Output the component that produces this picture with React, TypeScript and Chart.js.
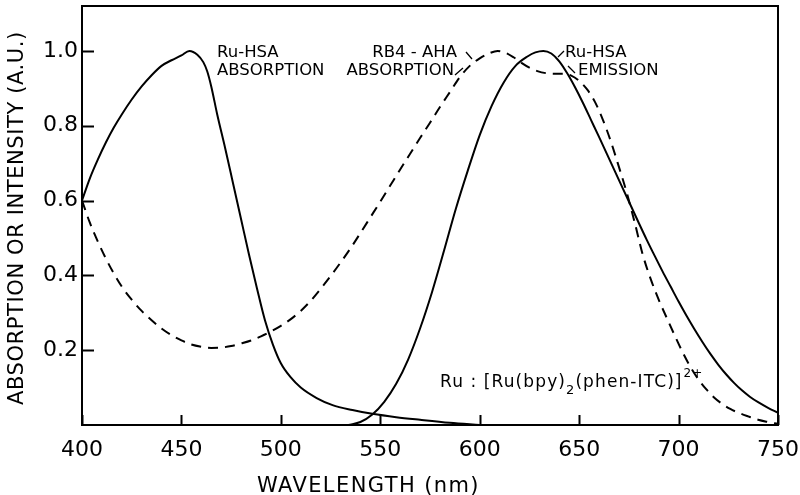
import React, { useEffect, useRef } from "react";
import { Chart, registerables } from "chart.js";

Chart.register(...registerables);

// Ru-HSA absorption (solid)
const absX = [400, 404, 408, 412, 416, 420, 425, 430, 435, 440, 445, 450, 454, 458, 461, 463, 465, 468, 472, 476, 480, 484, 488, 492, 496, 500, 505, 510, 518, 526, 536, 546, 558, 570, 585, 600];
const absY = [0.6, 0.66, 0.71, 0.755, 0.795, 0.83, 0.87, 0.905, 0.935, 0.96, 0.975, 0.988, 1.0, 0.99, 0.97, 0.945, 0.905, 0.83, 0.74, 0.645, 0.55, 0.455, 0.365, 0.28, 0.215, 0.165, 0.127, 0.1, 0.072, 0.053, 0.04, 0.03, 0.021, 0.014, 0.006, 0.0];

// Ru-HSA emission (solid)
const emX = [534, 540, 546, 552, 558, 564, 570, 576, 582, 588, 594, 600, 606, 612, 618, 624, 628, 632, 636, 640, 644, 648, 652, 656, 660, 664, 668, 672, 676, 680, 684, 688, 692, 696, 700, 704, 708, 712, 716, 720, 724, 728, 732, 736, 740, 745, 750];
const emY = [0, 0.008, 0.028, 0.062, 0.11, 0.175, 0.258, 0.355, 0.465, 0.578, 0.68, 0.775, 0.853, 0.915, 0.96, 0.985, 0.996, 1.0, 0.993, 0.972, 0.94, 0.902, 0.86, 0.815, 0.77, 0.724, 0.678, 0.632, 0.586, 0.54, 0.495, 0.452, 0.41, 0.37, 0.33, 0.292, 0.256, 0.222, 0.19, 0.161, 0.135, 0.112, 0.092, 0.075, 0.061, 0.046, 0.033];

// RB4-AHA absorption (dashed)
const rbX = [400, 404, 408, 412, 416, 420, 425, 430, 435, 440, 445, 450, 455, 460, 465, 470, 475, 480, 485, 490, 495, 500, 505, 510, 515, 520, 525, 530, 535, 540, 545, 550, 555, 560, 565, 570, 575, 580, 585, 590, 595, 600, 605, 609, 613, 617, 621, 625, 629, 634, 638, 642, 646, 650, 654, 658, 662, 666, 670, 674, 678, 682, 686, 690, 694, 698, 702, 706, 710, 714, 718, 722, 726, 730, 735, 740, 745, 750];
const rbY = [0.6, 0.54, 0.49, 0.445, 0.405, 0.37, 0.335, 0.305, 0.28, 0.258, 0.24, 0.226, 0.215, 0.209, 0.206, 0.207, 0.211, 0.218, 0.226, 0.237, 0.25, 0.265, 0.283, 0.305, 0.332, 0.364, 0.398, 0.434, 0.472, 0.513, 0.555, 0.597, 0.64, 0.683, 0.725, 0.767, 0.808, 0.85, 0.89, 0.93, 0.96, 0.98, 0.994, 1.0, 0.995, 0.983, 0.968, 0.955, 0.946, 0.94, 0.939, 0.939, 0.934, 0.92, 0.897, 0.863, 0.815, 0.757, 0.69, 0.62, 0.54, 0.455, 0.39, 0.335, 0.287, 0.24, 0.195, 0.155, 0.122, 0.095, 0.073, 0.056, 0.043, 0.033, 0.023, 0.014, 0.008, 0.003];

const xTicks = [400, 450, 500, 550, 600, 650, 700, 750];
const yTicks = [0.2, 0.4, 0.6, 0.8, 1.0];

const FONT = "'DejaVu Sans', sans-serif";

const toPts = (xs: number[], ys: number[]) => xs.map((x, i) => ({ x, y: ys[i] }));

const decorPlugin = {
  id: "decor",
  afterDraw(chart: any) {
    const { ctx, chartArea: a, scales } = chart;
    const xs = scales.x;
    const ys = scales.y;
    ctx.save();
    ctx.strokeStyle = "#000";
    ctx.fillStyle = "#000";
    // frame
    ctx.lineWidth = 2;
    ctx.strokeRect(a.left, a.top, a.right - a.left, a.bottom - a.top);
    // inward ticks
    ctx.beginPath();
    xTicks.forEach((t) => {
      const px = Math.round(xs.getPixelForValue(t)) + 0.5;
      ctx.moveTo(px, a.bottom);
      ctx.lineTo(px, a.bottom - 10);
    });
    yTicks.forEach((t) => {
      const py = Math.round(ys.getPixelForValue(t)) + 0.5;
      ctx.moveTo(a.left, py);
      ctx.lineTo(a.left + 12, py);
    });
    ctx.stroke();

    // axis titles
    ctx.textBaseline = "alphabetic";
    ctx.textAlign = "left";
    ctx.font = `21px ${FONT}`;
    (ctx as any).letterSpacing = "1.4px";
    ctx.fillText("WAVELENGTH (nm)", 257, 492);
    ctx.save();
    ctx.translate(23, 405);
    ctx.rotate(-Math.PI / 2);
    (ctx as any).letterSpacing = "0.6px";
    ctx.font = `21px ${FONT}`;
    ctx.fillText("ABSORPTION OR INTENSITY (A.U.)", 0, 0);
    ctx.restore();

    // curve labels
    (ctx as any).letterSpacing = "0px";
    ctx.font = `16.5px ${FONT}`;
    ctx.textAlign = "left";
    ctx.fillText("Ru-HSA", 217, 57);
    ctx.fillText("ABSORPTION", 217, 75);
    ctx.textAlign = "right";
    ctx.fillText("RB4 - AHA", 457, 57);
    ctx.fillText("ABSORPTION", 454, 75);
    ctx.textAlign = "left";
    ctx.fillText("Ru-HSA", 565, 57);
    ctx.fillText("EMISSION", 578, 75);

    // leader marks
    ctx.lineWidth = 1.3;
    ctx.beginPath();
    ctx.moveTo(466, 52); ctx.lineTo(472, 59);
    ctx.moveTo(455, 75); ctx.lineTo(463, 68);
    ctx.moveTo(558, 57); ctx.lineTo(564, 51);
    ctx.moveTo(568, 66); ctx.lineTo(575, 73);
    ctx.stroke();

    // formula
    (ctx as any).letterSpacing = "1.1px";
    let x = 440;
    const base = 387;
    const put = (s: string, dy: number, size: number) => {
      ctx.font = `${size}px ${FONT}`;
      ctx.fillText(s, x, base + dy);
      x += ctx.measureText(s).width;
    };
    put("Ru : [Ru(bpy)", 0, 17);
    put("2", 7, 13);
    put("(phen-ITC)]", 0, 17);
    x += 1;
    put("2+", -10, 12);

    ctx.restore();
  },
};

export default function App() {
  const ref = useRef<HTMLCanvasElement | null>(null);
  useEffect(() => {
    if (!ref.current) return;
    const common = {
      borderColor: "#000",
      borderWidth: 2,
      pointRadius: 0,
      cubicInterpolationMode: "monotone",
      fill: false,
    };
    const chart = new Chart(ref.current, {
      type: "line",
      data: {
        datasets: [
          { label: "Ru-HSA absorption", data: toPts(absX, absY), ...common },
          { label: "RB4-AHA absorption", data: toPts(rbX, rbY), borderDash: [10, 7], ...common },
          { label: "Ru-HSA emission", data: toPts(emX, emY), ...common },
        ],
      },
      options: {
        animation: false,
        responsive: false,
        maintainAspectRatio: false,
        layout: { padding: { top: 6, right: 22, left: 0, bottom: 0 } },
        plugins: { legend: { display: false }, tooltip: { enabled: false } },
        scales: {
          x: {
            type: "linear",
            min: 400,
            max: 750,
            border: { display: false },
            grid: { display: false, drawTicks: false },
            afterBuildTicks: (s: any) => {
              s.ticks = xTicks.map((v) => ({ value: v }));
            },
            afterFit: (s: any) => {
              s.height = 70;
              s.paddingLeft = 0;
              s.paddingRight = 0;
              s.paddingTop = 0;
              s.paddingBottom = 0;
            },
            ticks: {
              color: "#000",
              padding: 12,
              maxRotation: 0,
              autoSkip: false,
              font: { family: FONT, size: 22 },
              callback: (v: any) => String(v),
            },
          },
          y: {
            type: "linear",
            min: 0,
            max: 1.12,
            border: { display: false },
            grid: { display: false, drawTicks: false },
            afterBuildTicks: (s: any) => {
              s.ticks = yTicks.map((v) => ({ value: v }));
            },
            afterFit: (s: any) => {
              s.width = 82;
              s.paddingLeft = 0;
              s.paddingRight = 0;
              s.paddingTop = 0;
              s.paddingBottom = 0;
            },
            ticks: {
              color: "#000",
              padding: 4,
              autoSkip: false,
              font: { family: FONT, size: 22 },
              callback: (v: any) => Number(v).toFixed(1),
            },
          },
        },
      },
      plugins: [decorPlugin],
    } as any);
    return () => chart.destroy();
  }, []);
  return (
    <div style={{ position: "fixed", left: 0, top: 0, width: 800, height: 495, background: "#fff" }}>
      <canvas ref={ref} width={800} height={495} style={{ width: 800, height: 495, display: "block" }} />
    </div>
  );
}
